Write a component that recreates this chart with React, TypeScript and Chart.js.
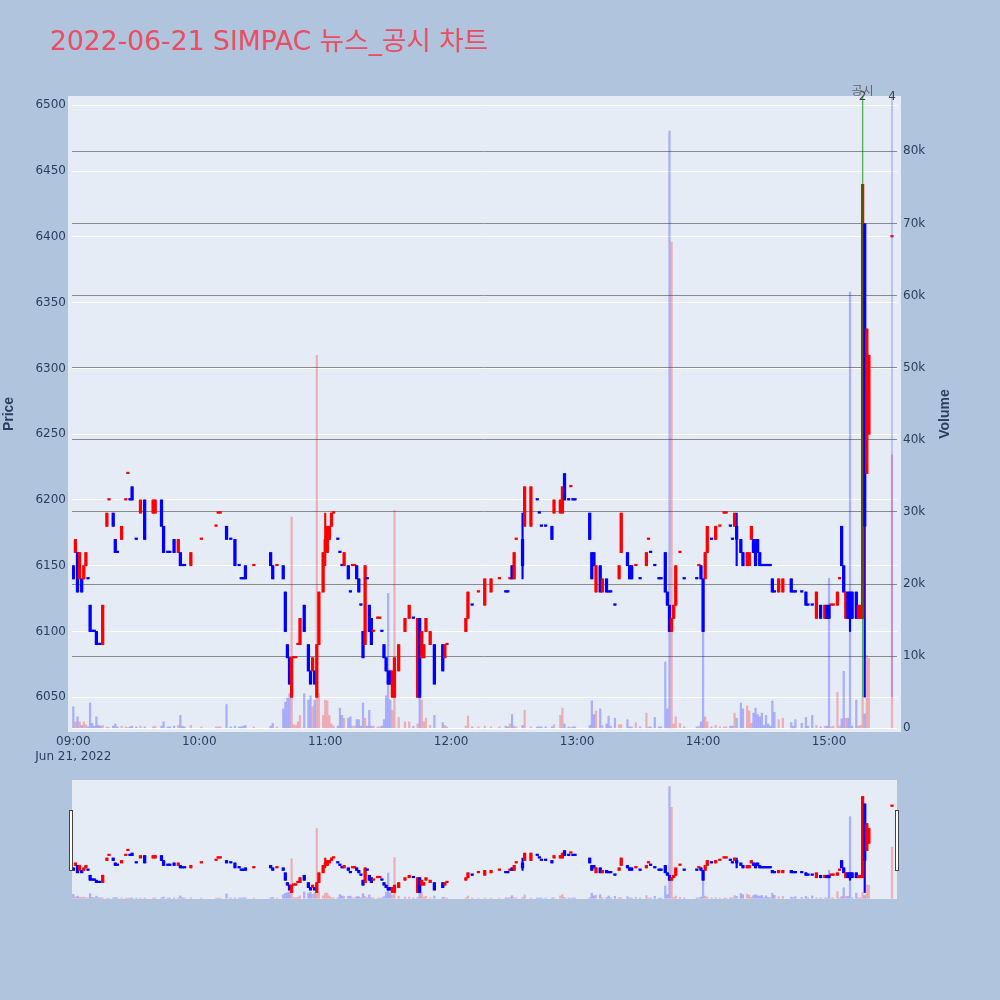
import React, { useEffect, useRef } from 'react';
import { Chart, registerables } from 'chart.js';

Chart.register(...registerables);

const TITLE = '2022-06-21 SIMPAC 뉴스_공시 차트';
const DATE_LABEL = 'Jun 21, 2022';

// one candle per traded minute
const times = [
  '09:00','09:01','09:02','09:03','09:04','09:05','09:06','09:07','09:08','09:09',
  '09:10','09:11','09:12','09:13','09:14','09:16','09:17','09:19','09:20','09:21',
  '09:23','09:25','09:26','09:27','09:28','09:30','09:32','09:34','09:38','09:39',
  '09:42','09:43','09:45','09:46','09:48','09:50','09:51','09:52','09:53','09:56',
  '10:01','10:08','10:09','10:10','10:13','10:15','10:17','10:19','10:20','10:21',
  '10:22','10:26','10:34','10:35','10:37','10:40','10:41','10:42','10:43','10:44',
  '10:45','10:46','10:47','10:48','10:50','10:52','10:53','10:54','10:55','10:56',
  '10:57','10:59','11:00','11:01','11:02','11:03','11:04','11:06','11:07','11:08',
  '11:09','11:11','11:12','11:13','11:14','11:15','11:16','11:17','11:18','11:19',
  '11:20','11:21','11:22','11:23','11:25','11:26','11:27','11:28','11:29','11:30',
  '11:31','11:32','11:33','11:35','11:38','11:40','11:42','11:44','11:45','11:46',
  '11:47','11:48','11:50','11:52','11:56','11:57','11:58','12:07','12:08','12:10',
  '12:13','12:16','12:19','12:23','12:26','12:27','12:28','12:29','12:30','12:31',
  '12:34','12:35','12:38','12:41','12:42','12:43','12:45','12:48','12:49','12:52',
  '12:53','12:54','12:56','12:57','12:58','12:59','13:06','13:07','13:08','13:09',
  '13:11','13:12','13:14','13:15','13:16','13:18','13:20','13:21','13:24','13:25',
  '13:26','13:28','13:30','13:33','13:34','13:35','13:37','13:39','13:40','13:42',
  '13:43','13:44','13:45','13:46','13:47','13:49','13:51','13:57','13:58','13:59',
  '14:00','14:01','14:02','14:04','14:06','14:08','14:10','14:11','14:13','14:14',
  '14:15','14:16','14:18','14:19','14:21','14:22','14:23','14:24','14:25','14:26',
  '14:27','14:28','14:29','14:30','14:31','14:32','14:33','14:34','14:36','14:38',
  '14:42','14:43','14:44','14:47','14:49','14:50','14:52','14:54','14:56','14:58',
  '14:59','15:00','15:01','15:02','15:04','15:05','15:06','15:07','15:08','15:09',
  '15:10','15:11','15:13','15:14','15:15','15:16','15:17','15:18','15:19','15:30',
];

const opens = [
  6150,6160,6160,6140,6140,6140,6150,6140,6120,6100,
  6100,6100,6090,6090,6090,6180,6200,6190,6170,6160,
  6170,6200,6220,6200,6210,6170,6190,6200,6190,6190,
  6200,6180,6160,6160,6170,6160,6160,6150,6150,6150,
  6170,6180,6190,6190,6180,6170,6170,6150,6140,6140,
  6150,6150,6160,6150,6150,6150,6130,6090,6080,6050,
  6080,6080,6090,6090,6120,6090,6070,6070,6070,6050,
  6090,6130,6160,6160,6170,6180,6190,6170,6160,6150,
  6150,6150,6130,6150,6150,6150,6140,6120,6100,6090,
  6140,6120,6110,6100,6110,6110,6100,6090,6080,6070,
  6070,6050,6050,6070,6100,6110,6110,6050,6110,6080,
  6080,6100,6090,6090,6090,6080,6090,6100,6110,6120,
  6130,6120,6130,6140,6130,6130,6140,6150,6140,6170,
  6170,6180,6180,6200,6190,6180,6180,6180,6190,6190,
  6190,6220,6200,6210,6200,6200,6190,6160,6160,6130,
  6150,6130,6140,6130,6130,6120,6140,6160,6160,6150,
  6150,6150,6140,6150,6170,6160,6150,6140,6140,6160,
  6130,6120,6100,6110,6120,6160,6140,6140,6150,6150,
  6140,6140,6160,6170,6170,6180,6190,6190,6180,6170,
  6180,6180,6170,6160,6150,6150,6170,6170,6160,6170,
  6160,6150,6150,6150,6150,6150,6140,6130,6130,6130,
  6140,6130,6130,6130,6130,6120,6120,6110,6120,6110,
  6120,6120,6120,6120,6120,6140,6180,6150,6110,6130,
  6130,6130,6130,6110,6110,6110,6410,6220,6250,6400,
];

const highs = [
  6150,6170,6160,6160,6140,6150,6160,6140,6120,6100,
  6100,6100,6090,6090,6120,6190,6200,6190,6170,6160,
  6180,6200,6220,6200,6210,6170,6200,6200,6200,6200,
  6200,6180,6160,6160,6170,6170,6160,6150,6150,6160,
  6170,6180,6190,6190,6180,6170,6170,6150,6140,6140,
  6150,6150,6160,6150,6150,6150,6130,6090,6080,6080,
  6080,6080,6090,6110,6120,6090,6070,6080,6070,6090,
  6130,6160,6190,6180,6180,6190,6190,6170,6160,6150,
  6160,6150,6130,6150,6150,6150,6140,6120,6100,6150,
  6140,6120,6110,6100,6110,6110,6100,6090,6080,6070,
  6070,6070,6080,6090,6110,6120,6110,6110,6110,6100,
  6090,6110,6100,6090,6090,6090,6090,6110,6130,6120,
  6130,6140,6140,6140,6130,6130,6140,6150,6160,6170,
  6190,6210,6210,6200,6190,6180,6180,6180,6200,6200,
  6210,6220,6200,6210,6200,6200,6190,6160,6160,6150,
  6150,6140,6140,6130,6130,6120,6150,6190,6160,6150,
  6150,6150,6140,6160,6170,6160,6150,6140,6140,6160,
  6130,6120,6110,6120,6150,6160,6140,6140,6150,6150,
  6140,6160,6180,6170,6180,6180,6190,6190,6180,6170,
  6190,6190,6170,6160,6160,6160,6180,6170,6170,6170,
  6160,6150,6150,6150,6150,6150,6140,6130,6140,6140,
  6140,6130,6130,6130,6130,6120,6120,6130,6120,6120,
  6120,6120,6120,6120,6130,6140,6180,6150,6130,6130,
  6130,6130,6130,6120,6120,6440,6410,6330,6310,6400,
];

const lows = [
  6140,6160,6130,6140,6130,6140,6150,6140,6100,6100,
  6100,6090,6090,6090,6090,6180,6200,6180,6160,6160,
  6170,6200,6220,6200,6200,6170,6190,6170,6190,6190,
  6180,6160,6160,6160,6160,6160,6150,6150,6150,6150,
  6170,6180,6190,6190,6170,6170,6150,6150,6140,6140,
  6140,6150,6150,6140,6150,6140,6100,6080,6060,6050,
  6080,6080,6090,6090,6100,6070,6060,6070,6060,6050,
  6090,6130,6150,6160,6170,6180,6190,6170,6160,6150,
  6150,6140,6130,6150,6150,6140,6130,6120,6080,6090,
  6140,6100,6090,6100,6110,6110,6100,6080,6070,6060,
  6060,6050,6050,6070,6100,6110,6110,6050,6050,6080,
  6080,6100,6090,6060,6070,6080,6090,6100,6110,6120,
  6130,6120,6130,6140,6130,6130,6140,6140,6140,6170,
  6140,6180,6180,6200,6190,6180,6180,6170,6190,6190,
  6190,6200,6200,6210,6200,6200,6170,6140,6150,6130,
  6130,6130,6130,6130,6130,6120,6140,6160,6150,6140,
  6140,6150,6140,6150,6170,6160,6150,6140,6140,6130,
  6120,6100,6100,6110,6120,6160,6140,6140,6150,6140,
  6100,6140,6160,6170,6170,6180,6190,6190,6180,6170,
  6180,6150,6160,6150,6150,6150,6170,6160,6150,6160,
  6150,6150,6150,6150,6150,6150,6130,6130,6130,6130,
  6130,6130,6130,6130,6120,6120,6120,6110,6110,6110,
  6110,6110,6120,6120,6120,6140,6150,6130,6110,6110,
  6100,6110,6110,6110,6110,6110,6050,6220,6250,6400,
];

const closes = [
  6140,6170,6130,6160,6130,6150,6160,6140,6100,6100,
  6100,6090,6090,6090,6120,6190,6200,6180,6160,6160,
  6180,6200,6220,6200,6200,6170,6200,6170,6200,6200,
  6180,6160,6160,6160,6160,6170,6150,6150,6150,6160,
  6170,6180,6190,6190,6170,6170,6150,6150,6140,6140,
  6140,6150,6150,6140,6150,6140,6100,6080,6060,6080,
  6080,6080,6090,6110,6100,6070,6060,6080,6060,6090,
  6130,6160,6170,6180,6180,6190,6190,6170,6160,6150,
  6160,6140,6130,6150,6150,6140,6130,6120,6080,6150,
  6140,6100,6090,6100,6110,6110,6100,6080,6070,6060,
  6060,6070,6080,6090,6110,6120,6110,6110,6050,6100,
  6090,6110,6100,6060,6070,6090,6090,6110,6130,6120,
  6130,6140,6140,6140,6130,6130,6140,6140,6160,6170,
  6150,6210,6210,6200,6190,6180,6180,6170,6200,6200,
  6210,6200,6200,6210,6200,6200,6170,6140,6150,6150,
  6130,6140,6130,6130,6130,6120,6150,6190,6150,6140,
  6140,6150,6140,6160,6170,6160,6150,6140,6140,6130,
  6120,6100,6110,6120,6150,6160,6140,6140,6150,6140,
  6100,6160,6180,6170,6180,6180,6190,6190,6180,6170,
  6190,6170,6160,6150,6160,6160,6180,6160,6150,6160,
  6150,6150,6150,6150,6150,6150,6130,6130,6140,6140,
  6130,6130,6130,6130,6120,6120,6120,6130,6110,6120,
  6110,6110,6120,6120,6130,6140,6150,6130,6130,6110,
  6110,6110,6110,6120,6120,6440,6180,6330,6310,6400,
];

const volumes = [
  3000,900,1600,900,400,900,500,200,3500,700,
  300,1600,400,300,400,200,100,300,600,200,
  300,200,100,200,300,200,300,200,200,300,
  300,900,200,200,300,400,1800,300,200,400,
  200,200,200,200,3300,200,300,200,200,300,
  400,200,300,700,200,2700,3600,4200,4800,29300,
  500,400,900,1800,4800,3900,4500,3000,3900,51700,
  4800,1800,3900,3800,1800,600,300,300,2800,1800,
  1400,1400,1600,300,300,1200,1200,300,3500,1400,
  300,2500,300,300,200,200,300,1200,4500,18700,
  3900,2500,30200,1500,900,900,300,600,4300,3900,
  900,1400,400,1800,800,400,200,300,1700,200,
  200,300,200,200,300,200,600,1900,300,200,
  400,2500,200,200,200,200,200,200,500,1800,
  2800,600,200,100,200,200,400,3800,1900,2400,
  2700,400,600,1700,300,1400,500,500,1200,200,
  200,800,200,2100,200,200,1500,200,200,9200,
  2700,82800,67400,600,1600,700,200,200,300,900,
  15000,1600,900,200,400,200,200,200,300,300,
  2100,1400,3500,2700,3100,2400,700,2100,2800,1900,
  1600,2100,400,1800,600,300,3800,2200,1200,1400,
  800,300,1200,700,1500,300,1800,400,200,300,
  300,20800,200,300,5000,300,1300,7900,1400,1400,
  60500,300,3900,300,400,4300,2000,10100,9700,37900,
];

const timeTicks = ['09:00', '10:00', '11:00', '12:00', '13:00', '14:00', '15:00'];
const priceTicks = [6050, 6100, 6150, 6200, 6250, 6300, 6350, 6400, 6450, 6500];
const volumeTicks = [0, 10000, 20000, 30000, 40000, 50000, 60000, 70000, 80000];
const volumeTickLabels = ['0', '10k', '20k', '30k', '40k', '50k', '60k', '70k', '80k'];

// disclosure markers
const markerTitle = '공시';
const markerTimes = ['15:16', '15:30'];
const markerCounts = ['2', '4'];
const markerColors = ['rgba(0,140,0,0.62)', 'rgba(70,80,255,0.38)'];
const markerLow = 6050;

// axis ranges
const X_MIN = -0.62;
const X_MAX = 392.38;
const PRICE_MIN = 6023.6;
const PRICE_MAX = 6507.1;
const VOL_MIN = -513;
const VOL_MAX = 87670;

const UP = '#ff0000';
const DOWN = '#0000ff';
const VOL_UP = 'rgba(255,0,0,0.26)';
const VOL_DOWN = 'rgba(0,0,255,0.26)';
const PLOT_BG = '#e5ecf6';
const PAGE_BG = '#b0c4de';
const AXIS_COLOR = '#2a3f5f';
const TICK_FONT = "'DejaVu Sans', Verdana, sans-serif";
const TITLE_FONT = "'Liberation Sans', Arial, sans-serif";

const toMinute = (t: string) => {
  const [h, m] = t.split(':').map(Number);
  return (h - 9) * 60 + m;
};

function directions(): boolean[] {
  const dirs: boolean[] = [];
  for (let i = 0; i < closes.length; i++) {
    const o = opens[i];
    const c = closes[i];
    let up: boolean;
    if (c > o) up = true;
    else if (c < o) up = false;
    else if (i === 0) up = false;
    else if (c > closes[i - 1]) up = true;
    else if (c < closes[i - 1]) up = false;
    else up = dirs[i - 1];
    dirs.push(up);
  }
  return dirs;
}

function buildDatasets(withMarkers: boolean): any[] {
  const xs = times.map(toMinute);
  const ups = directions();
  const colors = ups.map((u) => (u ? UP : DOWN));
  const ds: any[] = [
    {
      type: 'bar',
      label: 'wick',
      data: xs.map((x, i) => ({ x, y: [lows[i], highs[i]] })),
      backgroundColor: colors,
      barThickness: 1.5,
      grouped: false,
      yAxisID: 'y',
      order: 3,
    },
    {
      type: 'bar',
      label: 'body',
      data: xs.map((x, i) => ({ x, y: [Math.min(opens[i], closes[i]), Math.max(opens[i], closes[i])] })),
      backgroundColor: colors,
      barThickness: 2.6,
      minBarLength: 1.5,
      grouped: false,
      yAxisID: 'y',
      order: 2,
    },
    {
      type: 'bar',
      label: 'volume',
      data: xs.map((x, i) => ({ x, y: volumes[i] })),
      backgroundColor: ups.map((u) => (u ? VOL_UP : VOL_DOWN)),
      barThickness: 1.6,
      grouped: false,
      yAxisID: 'y2',
      order: 1,
    },
  ];
  if (withMarkers) {
    markerTimes.forEach((t, i) => {
      ds.push({
        type: 'line',
        label: 'marker' + i,
        data: [
          { x: toMinute(t), y: markerLow },
          { x: toMinute(t), y: PRICE_MAX },
        ],
        borderColor: markerColors[i],
        borderWidth: 1.4,
        pointRadius: 0,
        yAxisID: 'y',
        order: 0,
      });
    });
  }
  return ds;
}

const bgPlugin = (extra: number) => ({
  id: 'plotbg',
  beforeDraw(chart: any) {
    const { ctx, chartArea } = chart;
    ctx.save();
    ctx.fillStyle = PLOT_BG;
    ctx.fillRect(chartArea.left - extra, chartArea.top, chartArea.right - chartArea.left + 2 * extra, chartArea.bottom - chartArea.top);
    ctx.restore();
  },
});

const labelPlugin = {
  id: 'labels',
  afterDraw(chart: any) {
    const { ctx, chartArea } = chart;
    const xs = chart.scales.x;
    ctx.save();
    ctx.textAlign = 'center';
    ctx.textBaseline = 'middle';
    const p0 = xs.getPixelForValue(toMinute(markerTimes[0]));
    ctx.font = "12px 'Noto Sans CJK KR', 'DejaVu Sans', sans-serif";
    ctx.fillStyle = '#666';
    ctx.fillText(markerTitle, p0, chartArea.top - 6);
    ctx.font = '12px ' + TICK_FONT;
    ctx.fillStyle = '#444';
    markerTimes.forEach((t, i) => {
      const px = xs.getPixelForValue(toMinute(t));
      ctx.fillText(markerCounts[i], px, chartArea.top + 1);
    });
    ctx.translate(945, (chartArea.top + chartArea.bottom) / 2);
    ctx.rotate(-Math.PI / 2);
    ctx.font = 'bold 14px ' + TITLE_FONT;
    ctx.fillStyle = AXIS_COLOR;
    ctx.fillText('Volume', 0, 0);
    ctx.restore();
  },
};

const handlePlugin = {
  id: 'handles',
  afterDraw(chart: any) {
    const { ctx, chartArea } = chart;
    ctx.save();
    ctx.fillStyle = '#ffffff';
    ctx.strokeStyle = '#444';
    ctx.lineWidth = 1;
    const top = Math.round(chartArea.top + 30) + 0.5;
    const xs = [Math.round(chartArea.left) - 2.5, Math.round(chartArea.right) - 1.5];
    xs.forEach((x) => {
      ctx.fillRect(x, top, 3, 60);
      ctx.strokeRect(x, top, 3, 60);
    });
    ctx.restore();
  },
};

export default function App() {
  const mainRef = useRef<HTMLCanvasElement | null>(null);
  const sliderRef = useRef<HTMLCanvasElement | null>(null);

  useEffect(() => {
    if (!mainRef.current || !sliderRef.current) return;
    const tickFont = { family: TICK_FONT, size: 12 };

    const main = new Chart(mainRef.current, {
      type: 'bar',
      data: { datasets: buildDatasets(true) },
      options: {
        animation: false,
        responsive: false,
        devicePixelRatio: 1,
        events: [],
        layout: { padding: { top: 96, left: 0, right: 0, bottom: 0 } },
        plugins: { legend: { display: false }, tooltip: { enabled: false }, title: { display: false } },
        scales: {
          x: {
            type: 'linear',
            min: X_MIN,
            max: X_MAX,
            offset: false,
            grid: { display: false, drawTicks: false },
            border: { display: false },
            afterBuildTicks: (s: any) => {
              s.ticks = timeTicks.map((t) => ({ value: toMinute(t) }));
            },
            afterFit: (s: any) => {
              s.height = 48;
            },
            ticks: {
              autoSkip: false,
              maxRotation: 0,
              padding: 2,
              color: AXIS_COLOR,
              font: { family: TICK_FONT, size: 12, lineHeight: 1.28 },
              callback: (_v: any, i: number) => (i === 0 ? [timeTicks[0], DATE_LABEL] : timeTicks[i]),
            },
          },
          y: {
            type: 'linear',
            position: 'left',
            min: PRICE_MIN,
            max: PRICE_MAX,
            grid: { color: '#ffffff', lineWidth: 1, drawTicks: false },
            border: { display: false },
            afterBuildTicks: (s: any) => {
              s.ticks = priceTicks.map((v) => ({ value: v }));
            },
            afterFit: (s: any) => {
              s.width = 72;
            },
            ticks: { padding: 6, color: AXIS_COLOR, font: tickFont, callback: (v: any) => String(v) },
            title: {
              display: true,
              text: 'Price',
              color: AXIS_COLOR,
              font: { family: TITLE_FONT, size: 14, weight: 'bold' },
              padding: { top: 1, bottom: 0 },
            },
          },
          y2: {
            type: 'linear',
            position: 'right',
            min: VOL_MIN,
            max: VOL_MAX,
            grid: {
              color: (c: any) => (c.tick && c.tick.value === 0 ? '#ffffff' : '#8a8a8a'),
              lineWidth: 1,
              drawTicks: false,
            },
            border: { display: false },
            afterBuildTicks: (s: any) => {
              s.ticks = volumeTicks.map((v) => ({ value: v }));
            },
            afterFit: (s: any) => {
              s.width = 103;
            },
            ticks: {
              padding: 6,
              color: AXIS_COLOR,
              font: tickFont,
              callback: (_v: any, i: number) => volumeTickLabels[i],
            },
          },
        },
      } as any,
      plugins: [bgPlugin(4), labelPlugin],
    });

    const slider = new Chart(sliderRef.current, {
      type: 'bar',
      data: { datasets: buildDatasets(false) },
      options: {
        animation: false,
        responsive: false,
        devicePixelRatio: 1,
        events: [],
        layout: { padding: { top: 10, left: 72, right: 103, bottom: 11 } },
        plugins: { legend: { display: false }, tooltip: { enabled: false }, title: { display: false } },
        scales: {
          x: { type: 'linear', min: X_MIN, max: X_MAX, offset: false, display: false },
          y: { type: 'linear', min: PRICE_MIN, max: PRICE_MAX, display: false },
          y2: { type: 'linear', position: 'right', min: VOL_MIN, max: VOL_MAX, display: false },
        },
      } as any,
      plugins: [bgPlugin(0), handlePlugin],
    });

    return () => {
      main.destroy();
      slider.destroy();
    };
  }, []);

  return (
    <div
      style={{
        position: 'absolute',
        left: 0,
        top: 0,
        width: 1000,
        height: 1000,
        background: PAGE_BG,
        overflow: 'hidden',
      }}
    >
      <div
        style={{
          position: 'absolute',
          left: 50,
          top: 26,
          fontFamily: "'DejaVu Sans', 'Noto Sans CJK KR', sans-serif",
          fontSize: 26.6,
          lineHeight: '30px',
          color: '#e94f64',
          whiteSpace: 'nowrap',
        }}
      >
        {TITLE}
      </div>
      <canvas ref={mainRef} width={1000} height={780} style={{ position: 'absolute', left: 0, top: 0 }} />
      <canvas ref={sliderRef} width={1000} height={140} style={{ position: 'absolute', left: 0, top: 770 }} />
    </div>
  );
}
